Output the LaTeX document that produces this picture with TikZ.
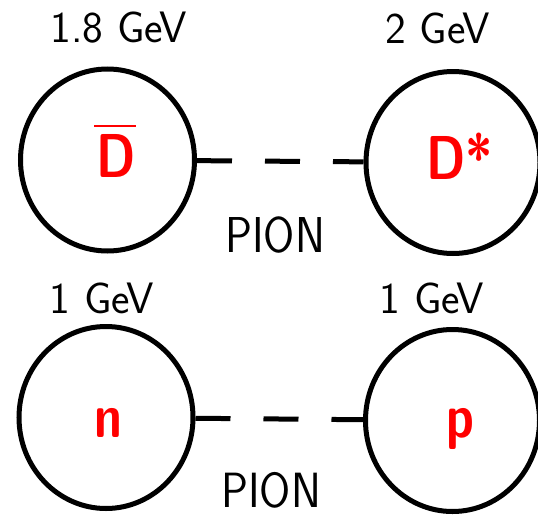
\documentclass[tikz,border=0pt]{standalone}
\usepackage{fontspec}
\usetikzlibrary{shapes.geometric}
\tikzset{
  particle/.style={draw, ellipse, line width=5pt, minimum width=174pt, minimum height=182pt, inner sep=0pt},
  pionline/.style={line width=5pt, dash pattern=on 35pt off 33pt},
  energylbl/.style={anchor=base, inner sep=0pt, font=\sffamily\fontsize{44}{50}\selectfont},
  pionlbl/.style={anchor=base, inner sep=0pt, font=\sffamily\fontsize{45}{50}\selectfont},
  partlbl/.style={anchor=base, inner sep=0pt, text=red, font=\sffamily\bfseries\fontsize{62}{70}\selectfont}
}
\begin{document}
\begin{tikzpicture}[x=1pt,y=-1pt]
\useasboundingbox (0,0) rectangle (538,514);
% top row
\node[particle] (Dbar) at (107.5,160) {};
\node[particle] (Dstar) at (453,162.5) {};
\draw[pionline] (Dbar) -- (Dstar);
\node[energylbl] (e1) at (119,42) {1.8 GeV};
\node[energylbl] (e2) at (437.5,43) {2 GeV};
\node[pionlbl] (p1) at (275,252) {\scalebox{1}[1.12]{PION}};
\node[partlbl] (lDbar) at (116,177) {\rlap{\hspace{-2pt}\rule[50pt]{42pt}{1.6pt}}\scalebox{0.8}[1]{D}};
\node[partlbl] (lDstar) at (459.5,179) {\scalebox{0.8}[1]{D*}};
% bottom row
\node[particle] (n) at (106,417.5) {};
\node[particle] (p) at (452.5,420.5) {};
\draw[pionline] (n) -- (p);
\node[energylbl] (e3) at (102,313) {1 GeV};
\node[energylbl] (e4) at (432,313) {1 GeV};
\node[pionlbl] (p2) at (271,507) {\scalebox{1}[1.1]{PION}};
\node[partlbl] (ln) at (108.5,437) {\scalebox{0.8}[1]{n}};
\node[partlbl] (lp) at (460.5,437) {\scalebox{0.8}[1]{p}};
\end{tikzpicture}
\end{document}
